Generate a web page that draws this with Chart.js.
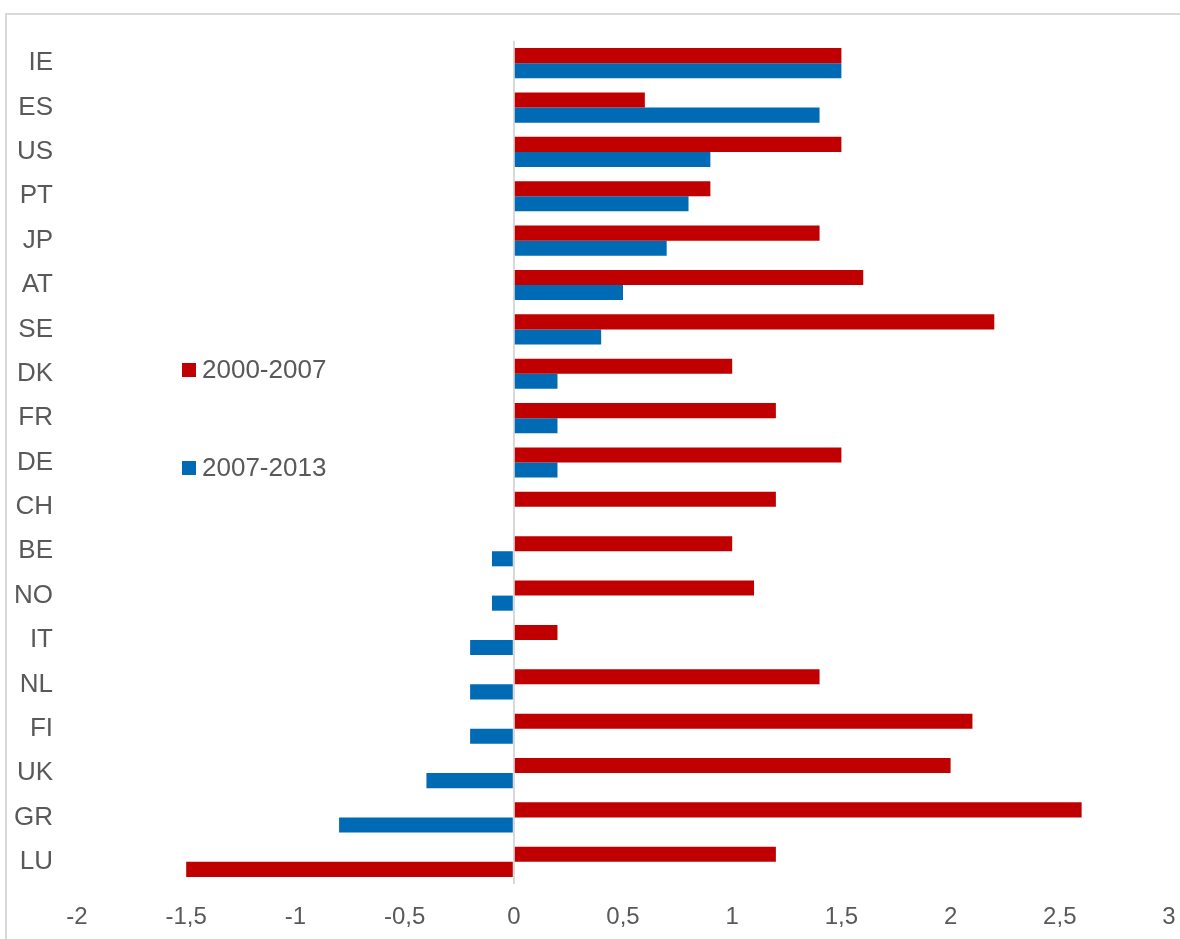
<!DOCTYPE html>
<html>
<head>
    <meta charset="utf-8">
    <title>Growth by country</title>
    <script src="https://cdn.jsdelivr.net/npm/chart.js@4/dist/chart.umd.min.js"></script>
    <style>
        html, body {
            margin: 0;
            padding: 0;
            background: #fff;
            overflow: hidden;
        }

        .frame {
            position: absolute;
            left: 5px;
            top: 13px;
            width: 1300px;
            height: 1000px;
            border-left: 2px solid #d9d9d9;
            border-top: 2px solid #d9d9d9;
        }

        #wrap {
            position: absolute;
            left: 0;
            top: 0;
            width: 1180px;
            height: 939px;
        }
    </style>
</head>
<body>
<div class="frame"></div>
<div id="wrap">
    <canvas id="chart"></canvas>
</div>
<script>
    var countries = ['IE', 'ES', 'US', 'PT', 'JP', 'AT', 'SE', 'DK', 'FR', 'DE',
        'CH', 'BE', 'NO', 'IT', 'NL', 'FI', 'UK', 'GR', 'LU'];
    var growth2000_2007 = [1.5, 0.6, 1.5, 0.9, 1.4, 1.6, 2.2, 1.0, 1.2, 1.5,
        1.2, 1.0, 1.1, 0.2, 1.4, 2.1, 2.0, 2.6, 1.2];
    var growth2007_2013 = [1.5, 1.4, 0.9, 0.8, 0.7, 0.5, 0.4, 0.2, 0.2, 0.2,
        0, -0.1, -0.1, -0.2, -0.2, -0.2, -0.4, -0.8, -1.5];
    var seriesNames = ['2000-2007', '2007-2013'];
    var xTicks = [-2, -1.5, -1, -0.5, 0, 0.5, 1, 1.5, 2, 2.5, 3];

    var RED = '#C00000';
    var BLUE = '#006AB4';
    var TEXT = '#595959';
    var FONT = "'Liberation Sans', Arial, sans-serif";

    // legend sits inside the plot, stacked with a wide gap
    var legendPlugin = {
        id: 'sideLegend',
        afterDraw: function (chart) {
            var c = chart.ctx;
            var rows = [370, 468];
            c.save();
            c.font = '26px ' + FONT;
            c.textBaseline = 'middle';
            chart.data.datasets.forEach(function (ds, i) {
                c.fillStyle = ds.legendColor;
                c.fillRect(182, rows[i] - 7, 14, 14);
                c.fillStyle = TEXT;
                c.fillText(ds.label, 202, rows[i] + 1);
            });
            c.restore();
        }
    };

    var ctx = document.getElementById('chart').getContext('2d');
    window.chart = new Chart(ctx, {
        type: 'bar',
        data: {
            labels: countries,
            datasets: [{
                label: seriesNames[0],
                data: growth2000_2007,
                backgroundColor: RED,
                legendColor: RED
            }, {
                label: seriesNames[1],
                data: growth2007_2013,
                // LU is picked out in red in the later period too
                backgroundColor: function (c) {
                    return countries[c.dataIndex] === 'LU' ? RED : BLUE;
                },
                legendColor: BLUE
            }]
        },
        plugins: [legendPlugin],
        options: {
            indexAxis: 'y',
            responsive: true,
            maintainAspectRatio: false,
            animation: false,
            datasets: {
                bar: {
                    categoryPercentage: 0.68,
                    barPercentage: 1.0
                }
            },
            layout: {
                padding: {top: 41, right: 11, bottom: 0, left: 0}
            },
            plugins: {
                legend: {display: false},
                tooltip: {enabled: false}
            },
            scales: {
                x: {
                    min: -2,
                    max: 3,
                    afterBuildTicks: function (axis) {
                        axis.ticks = xTicks.map(function (v) { return {value: v}; });
                    },
                    afterFit: function (axis) {
                        axis.height = 55;
                        // let the end labels hang over the padding
                        axis.paddingLeft = 0;
                        axis.paddingRight = 0;
                    },
                    border: {display: false},
                    grid: {
                        drawTicks: false,
                        lineWidth: 2,
                        color: function (c) {
                            return c.tick && c.tick.value === 0 ? '#d9d9d9' : 'rgba(0,0,0,0)';
                        }
                    },
                    ticks: {
                        color: TEXT,
                        padding: 19,
                        maxRotation: 0,
                        font: {family: FONT, size: 24},
                        callback: function (v) {
                            return String(v).replace('.', ',');
                        }
                    }
                },
                y: {
                    afterFit: function (axis) {
                        axis.width = 77;
                    },
                    border: {display: false},
                    grid: {display: false, drawTicks: false},
                    ticks: {
                        color: TEXT,
                        padding: 24,
                        font: {family: FONT, size: 26}
                    }
                }
            }
        }
    });
</script>
</body>
</html>
